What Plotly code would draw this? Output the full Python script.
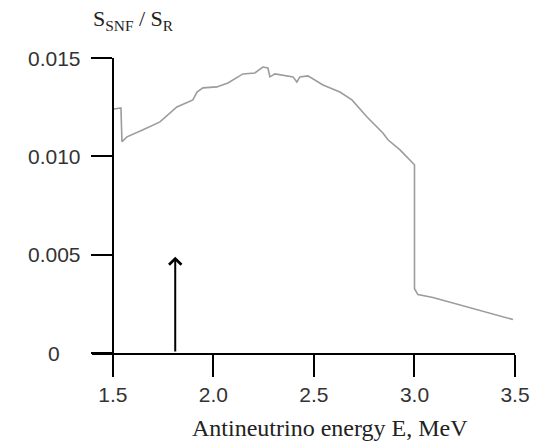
import plotly.graph_objects as go

# Spectrum ratio S_SNF / S_R versus antineutrino energy
energy_mev = [1.505, 1.540, 1.545, 1.570, 1.650, 1.734, 1.818, 1.898, 1.918, 1.948,
              2.017, 2.072, 2.147, 2.206, 2.246, 2.271, 2.281, 2.306, 2.396, 2.415,
              2.430, 2.470, 2.545, 2.629, 2.689, 2.764, 2.843, 2.868, 2.928, 3.000,
              3.000, 3.017, 3.092, 3.261, 3.490]
ratio = [0.01241, 0.01246, 0.01074, 0.01099, 0.01135, 0.01175, 0.01251, 0.01287, 0.01327, 0.01348,
         0.01353, 0.01373, 0.01419, 0.01424, 0.01454, 0.01449, 0.01404, 0.01419, 0.01404, 0.01378,
         0.01404, 0.01409, 0.01363, 0.01327, 0.01287, 0.01200, 0.01119, 0.01084, 0.01033, 0.00957,
         0.00327, 0.00297, 0.00282, 0.00236, 0.00170]

x_ticks = [1.5, 2.0, 2.5, 3.0, 3.5]
x_tick_labels = ["1.5", "2.0", "2.5", "3.0", "3.5"]
y_ticks = [0, 0.005, 0.010, 0.015]
y_tick_labels = ["0", "0.005", "0.010", "0.015"]

threshold_energy = 1.81
arrow_top = 0.0049

x_range = [1.396, 3.5]
y_range = [0, 0.015]

sans = "Liberation Sans"
serif = "Liberation Serif"

fig = go.Figure()
fig.add_trace(go.Scatter(x=energy_mev, y=ratio, mode="lines",
                         line=dict(color="#9c9c9c", width=1.6),
                         showlegend=False, hoverinfo="skip"))

annotations = []
for v, t in zip(y_ticks, y_tick_labels):
    annotations.append(dict(x=(54 - 92) / 423, xref="paper", y=v, yref="y",
                            text=t, showarrow=False, xanchor="center", yanchor="middle",
                            font=dict(family=sans, size=21, color="#333333")))

# threshold arrow
annotations.append(dict(x=threshold_energy, y=arrow_top, xref="x", yref="y",
                        ax=threshold_energy, ay=0, axref="x", ayref="y",
                        showarrow=True, arrowhead=4, arrowsize=1.2, arrowwidth=2,
                        arrowcolor="#000000", text=""))

annotations.append(dict(x=(133 - 92) / 423, y=1 + 38 / 295, xref="paper", yref="paper",
                        text="S<sub>SNF</sub> / S<sub>R</sub>", showarrow=False,
                        xanchor="center", yanchor="middle",
                        font=dict(family=serif, size=22, color="#222222")))
annotations.append(dict(x=(330 - 92) / 423, y=-75 / 295, xref="paper", yref="paper",
                        text="Antineutrino energy E, MeV", showarrow=False,
                        xanchor="center", yanchor="middle",
                        font=dict(family=serif, size=24, color="#222222")))

fig.update_layout(
    width=543, height=443,
    margin=dict(l=92, r=28, t=58, b=90),
    paper_bgcolor="white", plot_bgcolor="white",
    xaxis=dict(range=x_range, tickvals=x_ticks, ticktext=x_tick_labels,
               showline=True, linecolor="black", linewidth=2,
               ticks="outside", ticklen=22, tickwidth=2, tickcolor="black",
               showgrid=False, zeroline=False,
               tickfont=dict(family=sans, size=21, color="#333333")),
    yaxis=dict(range=y_range, tickvals=y_ticks, showticklabels=False,
               anchor="free", position=0.104 / 2.104,
               showline=True, linecolor="black", linewidth=2,
               ticks="outside", ticklen=21, tickwidth=2, tickcolor="black",
               showgrid=False, zeroline=False),
    annotations=annotations,
)

fig.write_html("out.html")
